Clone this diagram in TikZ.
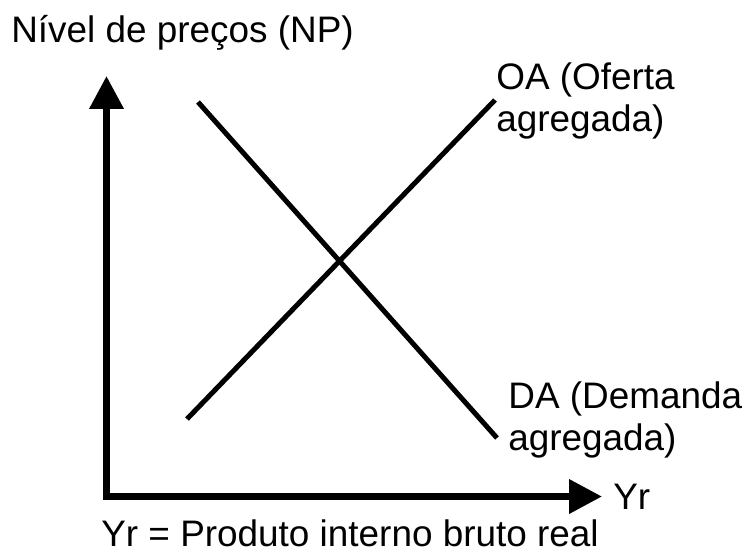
\documentclass[tikz,border=0pt]{standalone}
\usepackage{fontspec}
\setmainfont{Liberation Sans}
\usetikzlibrary{arrows.meta}

\begin{document}
\begin{tikzpicture}[x=0.02cm, y=-0.02cm,
	axis/.style={line width=0.14cm, line join=miter},
	curve/.style={line width=0.1cm},
	lbl/.style={inner sep=0pt, anchor=base west, font=\fontsize{21}{24}\selectfont}]
	%%%%% START %%%%%
	\useasboundingbox (0,0) rectangle (746,555);
	
	% axes
	\coordinate (origin) at (106.5,496.5);
	\coordinate (ytip) at (106.5,76);
	\coordinate (xtip) at (602,496.5);
	\draw[axis, {Triangle[length=0.66cm,width=0.66cm]}-{Triangle[length=0.66cm,width=0.66cm]}] (ytip) -- (origin) -- (xtip);
	
	% demand and supply
	\coordinate (da-top) at (198,102);
	\coordinate (da-bot) at (497,438);
	\coordinate (oa-bot) at (187,419);
	\coordinate (oa-top) at (495,100);
	\draw[curve] (da-top) -- (da-bot);
	\draw[curve] (oa-bot) -- (oa-top);
	
	% labels
	\node[lbl] (np) at (11,42) {Nível de preços (NP)};
	\node[lbl] (oa1) at (496,89) {OA (Oferta};
	\node[lbl] (oa2) at (496,131) {agregada)};
	\node[lbl] (da1) at (508,408) {DA (Demanda};
	\node[lbl] (da2) at (508,450) {agregada)};
	\node[lbl] (yr) at (613,509) {Yr};
	\node[lbl] (def) at (101,546) {Yr = Produto interno bruto real};
	
	%%%%% END %%%%%
\end{tikzpicture}
\end{document}
